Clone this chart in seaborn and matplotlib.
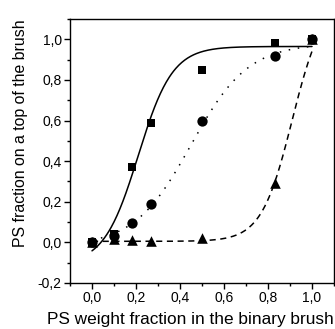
import numpy as np
import pandas as pd
import matplotlib
matplotlib.use("Agg")
import matplotlib.pyplot as plt
import seaborn as sns
from matplotlib.ticker import FuncFormatter, MultipleLocator

# Measured data
x_vals = [0.0, 0.10, 0.18, 0.27, 0.50, 0.83, 1.00]
y_square = [0.0, 0.04, 0.37, 0.59, 0.85, 0.98, 1.00]
y_circle = [0.0, 0.03, 0.095, 0.19, 0.60, 0.92, 1.00]
y_triangle = [0.0, 0.015, 0.01, 0.005, 0.02, 0.29, 1.00]

# Boltzmann fit parameters (A1, A2, x0, dx)
fit_solid = (-0.11, 0.965, 0.21, 0.078)
fit_dotted = (-0.02, 0.98, 0.45, 0.13)
fit_dashed = (0.005, 1.2, 0.91, 0.07)

x_label = "PS weight fraction in the binary brush"
y_label = "PS fraction on a top of the brush"

sns.set_style("ticks")
plt.rcParams['font.family'] = ['Liberation Sans', 'DejaVu Sans']

fig = plt.figure(figsize=(3.35, 3.29), dpi=100)
ax = fig.add_axes([0.209, 0.14, 0.788, 0.802])


def boltzmann(x, p):
    a1, a2, x0, dx = p
    return a2 + (a1 - a2) / (1 + np.exp((x - x0) / dx))


xf = np.linspace(0, 1, 300)
fits = pd.DataFrame({
    "x": xf,
    "solid": boltzmann(xf, fit_solid),
    "dotted": boltzmann(xf, fit_dotted),
    "dashed": boltzmann(xf, fit_dashed),
})

sns.lineplot(data=fits, x="x", y="solid", ax=ax, color="black", lw=1.1)
sns.lineplot(data=fits, x="x", y="dotted", ax=ax, color="black", lw=1.1,
             linestyle=(0, (1, 5)))
sns.lineplot(data=fits, x="x", y="dashed", ax=ax, color="black", lw=1.1,
             linestyle=(0, (4, 3)))

pts = pd.DataFrame({"x": x_vals, "sq": y_square, "ci": y_circle, "tr": y_triangle})
sns.scatterplot(data=pts, x="x", y="sq", ax=ax, marker="s", s=32, color="black",
                edgecolor="black", linewidth=0, zorder=5)
sns.scatterplot(data=pts, x="x", y="ci", ax=ax, marker="o", s=55, color="black",
                edgecolor="black", linewidth=0, zorder=5)
sns.scatterplot(data=pts, x="x", y="tr", ax=ax, marker="^", s=58, color="black",
                edgecolor="black", linewidth=0, zorder=5)

ax.set_xlim(-0.1, 1.1)
ax.set_ylim(-0.2, 1.1)
ax.xaxis.set_major_locator(MultipleLocator(0.2))
ax.xaxis.set_minor_locator(MultipleLocator(0.1))
ax.yaxis.set_major_locator(MultipleLocator(0.2))
ax.yaxis.set_minor_locator(MultipleLocator(0.1))
fmt = FuncFormatter(lambda v, pos: f"{v:.1f}".replace(".", ",").replace("-0,0", "0,0"))
ax.xaxis.set_major_formatter(fmt)
ax.yaxis.set_major_formatter(fmt)
ax.tick_params(which="major", length=4, width=1, labelsize=10, color="black",
               labelcolor="black", pad=2)
ax.tick_params(which="minor", length=2, width=1, color="black")
for sp in ax.spines.values():
    sp.set_visible(True)
    sp.set_linewidth(1.0)
    sp.set_color("black")

ax.set_xlabel(x_label, fontsize=12.4, color="black")
ax.set_ylabel(y_label, fontsize=11.4, color="black")
ax.xaxis.set_label_coords(0.455, -0.11)
ax.yaxis.set_label_coords(-0.16, 0.566)

fig.savefig("out.png", dpi=100)
